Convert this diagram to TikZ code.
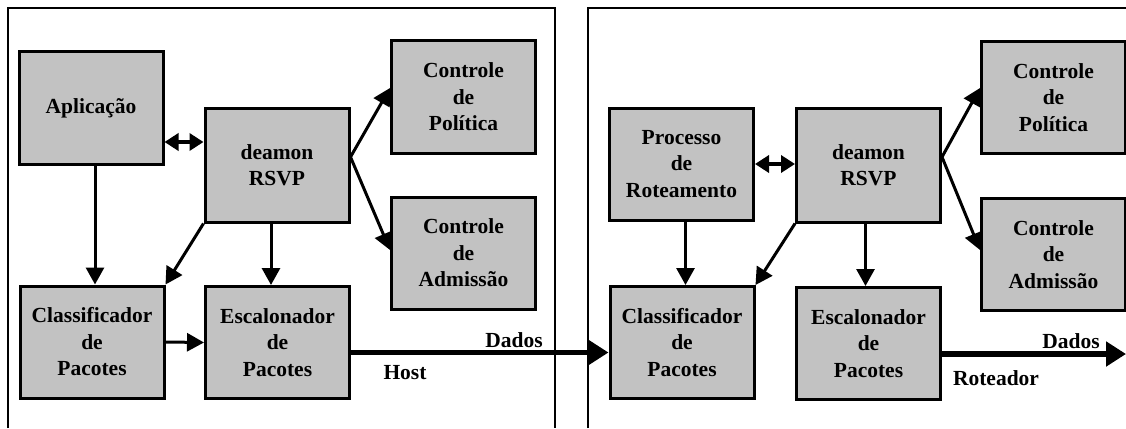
\documentclass[tikz,border=0pt]{standalone}
\usepackage{fontspec}
\setmainfont{Liberation Serif}
\usetikzlibrary{arrows.meta}
\definecolor{boxgray}{RGB}{194,194,194}
\begin{document}
\begin{tikzpicture}[x=1pt,y=-1pt,
  blk/.style={draw=black, line width=3pt, fill=boxgray, inner sep=0pt, align=center,
    font=\bfseries\fontsize{21.5}{26.5}\selectfont, minimum width=144pt, minimum height=112pt},
  arr/.style={-{Triangle[length=17pt,width=18pt]}, line width=3pt},
  dbl/.style={{Triangle[length=14pt,width=17pt]}-{Triangle[length=14pt,width=17pt]}, line width=4pt},
  bigarr/.style={-{Triangle[length=20pt,width=24pt]}, line width=5.5pt},
  lbl/.style={font=\bfseries\fontsize{21.5}{26.5}\selectfont, inner sep=0pt},
  frame/.style={line width=2.2pt}
]
\useasboundingbox (0,0) rectangle (1126,428);

% frames
\coordinate (fL1) at (8,428);
\coordinate (fL2) at (8,8);
\coordinate (fL3) at (555,8);
\coordinate (fL4) at (555,428);
\coordinate (fR1) at (588,428);
\coordinate (fR2) at (588,8);
\coordinate (fR3) at (1126,8);
\draw[frame] (fL1) -- (fL2) -- (fL3) -- (fL4);
\draw[frame] (fR1) -- (fR2) -- (fR3);

% left (host) blocks
\node[blk] (apl)  at (91,108)    {Aplicação};
\node[blk, minimum height=114pt] (dL) at (277,165) {deamon\\RSVP};
\node[blk] (polL) at (463.5,97)  {Controle\\de\\Política};
\node[blk] (admL) at (463.5,253) {Controle\\de\\Admissão};
\node[blk] (claL) at (92,342)    {Classificador\\de\\Pacotes};
\node[blk] (escL) at (277.5,342.5) {Escalonador\\de\\Pacotes};

% right (router) blocks
\node[blk] (proc) at (681.5,164)  {Processo\\de\\Roteamento};
\node[blk, minimum height=114pt] (dR) at (868.5,165) {deamon\\RSVP};
\node[blk] (polR) at (1053.5,97.5)  {Controle\\de\\Política};
\node[blk] (admR) at (1053.5,254.5) {Controle\\de\\Admissão};
\node[blk] (claR) at (682,342.5)  {Classificador\\de\\Pacotes};
\node[blk] (escR) at (868.5,343.5) {Escalonador\\de\\Pacotes};

% labels
\node[lbl] (dadosL) at (514,340) {Dados};
\node[lbl] (host)   at (405,373) {Host};
\node[lbl] (dadosR) at (1071,341) {Dados};
\node[lbl] (rot)    at (996,378) {Roteador};

% helper coordinates
\path ([yshift=-34pt]apl.east) coordinate (a1);
\path ([xshift=4pt]apl.south) coordinate (a2);
\path ([xshift=-6pt]dL.south) coordinate (d1);
\path ([yshift=8pt]dL.east) coordinate (d2);
\path ([yshift=9pt]polL.west) coordinate (p1);
\path ([yshift=3pt]admL.west) coordinate (m1);
\path ([yshift=-10pt]escL.east) coordinate (e1);
\path ([xshift=4pt]proc.south) coordinate (r1);
\path ([xshift=-3pt]dR.south) coordinate (d3);
\path ([yshift=8pt]dR.east) coordinate (d4);
\path ([yshift=9.5pt]polR.west) coordinate (p2);
\path ([yshift=4.5pt]admR.west) coordinate (m2);
\path ([yshift=-10.5pt]escR.east) coordinate (e2);
\coordinate (outR) at (1126,354);

% left connectors
\draw[dbl] (a1) -- (a1 -| dL.west);
\draw[arr] (a2) -- (a2 |- claL.north);
\draw[arr] (dL.south west) -- (claL.north east);
\draw[arr] (d1) -- (d1 |- escL.north);
\draw[arr] (d2) -- (p1);
\draw[arr] (d2) -- (m1);
\draw[arr] (claL.east) -- (escL.west);
\draw[bigarr] (e1) -- (e1 -| claR.west);

% right connectors
\draw[dbl] (proc.east) -- (proc.east -| dR.west);
\draw[arr] (r1) -- (r1 |- claR.north);
\draw[arr] (dR.south west) -- (claR.north east);
\draw[arr] (d3) -- (d3 |- escR.north);
\draw[arr] (d4) -- (p2);
\draw[arr] (d4) -- (m2);
\draw[bigarr] (e2) -- (e2 -| outR);
\end{tikzpicture}
\end{document}
